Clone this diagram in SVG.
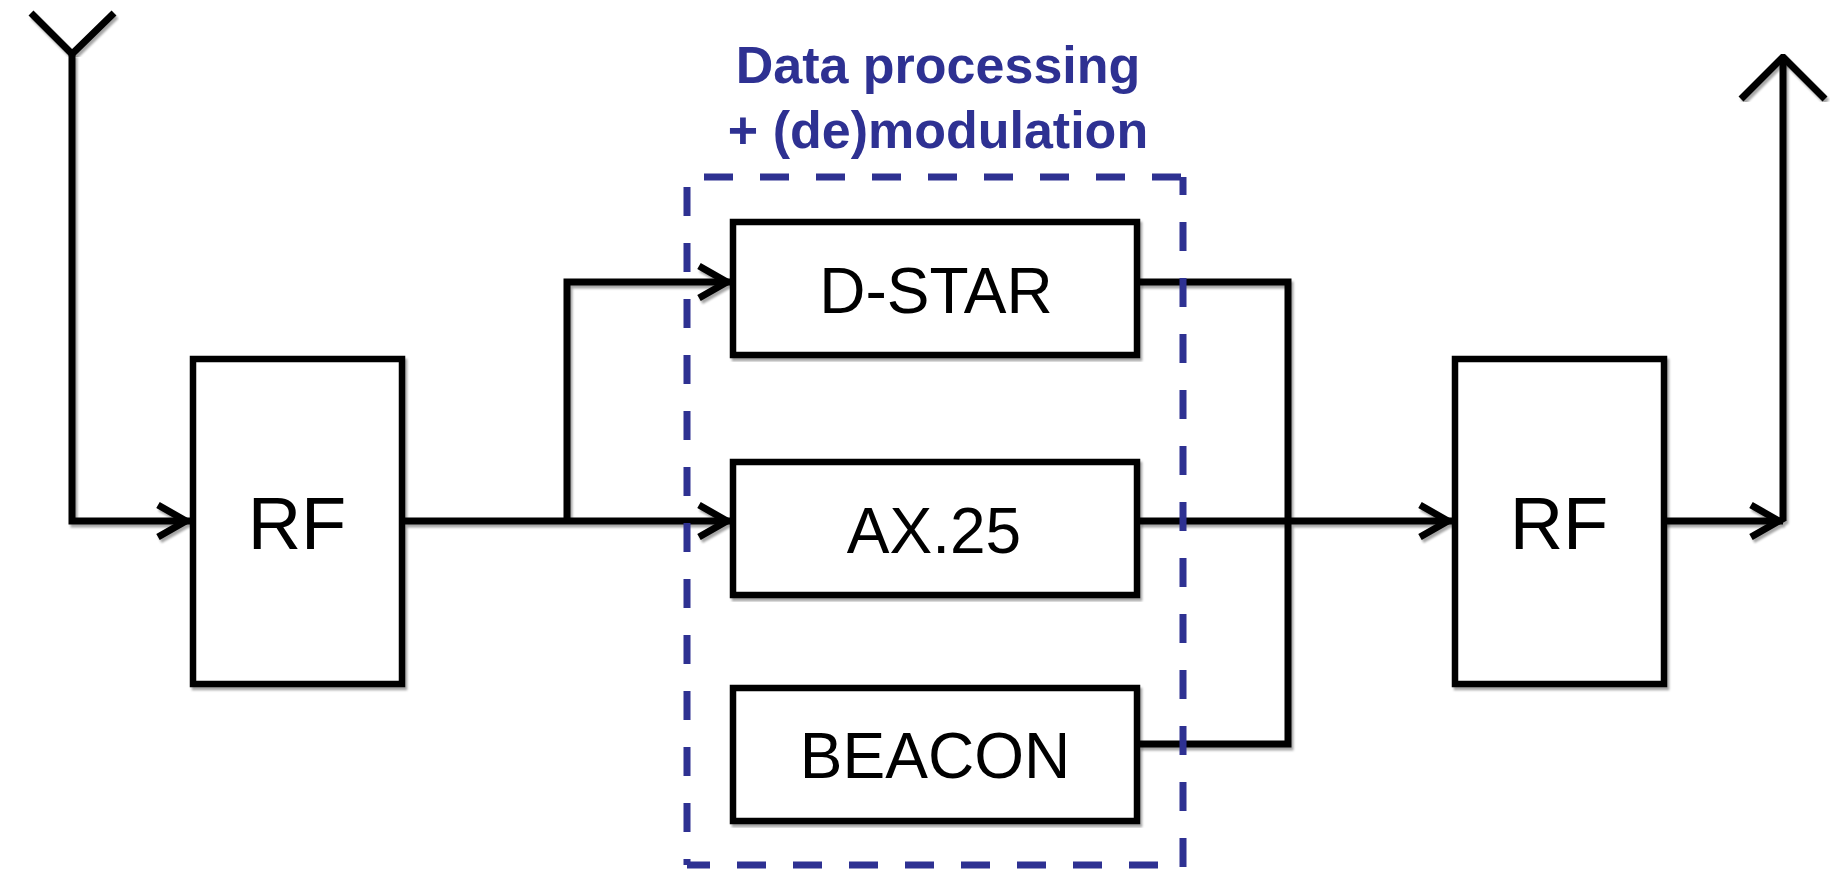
<svg xmlns="http://www.w3.org/2000/svg" width="1841" height="870" viewBox="0 0 1841 870">
  <style>
    .box { fill: #ffffff; stroke: #000000; stroke-width: 6.5; }
    .lbl { font-family: "Liberation Sans", Arial, sans-serif; fill: #000000; text-anchor: middle; }
    .wire { fill: none; stroke: #000000; stroke-width: 7; stroke-linejoin: miter; }
    .title { font-family: "Liberation Sans", Arial, sans-serif; font-weight: bold; font-size: 52px; fill: #2E3192; text-anchor: middle; }
    .dash { fill: none; stroke: #2E3192; stroke-width: 7; stroke-dasharray: 29 27; }
  </style>
  <defs>
    <filter id="shadow" x="-5%" y="-5%" width="110%" height="110%">
      <feDropShadow dx="2" dy="3" stdDeviation="1" flood-color="#000000" flood-opacity="0.35"/>
    </filter>
    <marker id="arrow" markerUnits="userSpaceOnUse" viewBox="-40 -20 44 40" refX="0" refY="0" markerWidth="44" markerHeight="40" orient="auto" overflow="visible">
      <path d="M-32,-16 L-4,0 L-32,16" fill="none" stroke="#000000" stroke-width="7"/>
    </marker>
  </defs>
  <rect width="1841" height="870" fill="#ffffff"/>

  <g id="connectors" filter="url(#shadow)">
    <path class="wire" d="M72,54 V521 H190" marker-end="url(#arrow)"/>
    <path class="wire" d="M405,521 H731" marker-end="url(#arrow)"/>
    <path class="wire" d="M567,521 V282 H731" marker-end="url(#arrow)"/>
    <path class="wire" d="M1139,282 H1288 V744 H1139"/>
    <path class="wire" d="M1139,521 H1452" marker-end="url(#arrow)"/>
    <path class="wire" d="M1665,521 H1783" marker-end="url(#arrow)"/>
    <path class="wire" d="M1783,521 V57"/>
  </g>

  <g id="antenna-rx" filter="url(#shadow)">
    <path class="wire" d="M31,13 L72,54 L114,13"/>
  </g>
  <g id="antenna-tx" filter="url(#shadow)">
    <path class="wire" d="M1741,99 L1783,57 L1825,99"/>
  </g>

  <g id="rf-rx">
    <rect class="box" x="193" y="359" width="209" height="325" filter="url(#shadow)"/>
    <text class="lbl" x="297" y="549" font-size="74">RF</text>
  </g>

  <g id="dstar">
    <rect class="box" x="733" y="222" width="404" height="133" filter="url(#shadow)"/>
    <text class="lbl" x="936" y="313" font-size="64">D-STAR</text>
  </g>

  <g id="ax25">
    <rect class="box" x="733" y="462" width="404" height="133" filter="url(#shadow)"/>
    <text class="lbl" x="934" y="553" font-size="64">AX.25</text>
  </g>

  <g id="beacon">
    <rect class="box" x="733" y="688" width="404" height="133" filter="url(#shadow)"/>
    <text class="lbl" x="935" y="778" font-size="64">BEACON</text>
  </g>

  <g id="rf-tx">
    <rect class="box" x="1455" y="359" width="209" height="325" filter="url(#shadow)"/>
    <text class="lbl" x="1559" y="549" font-size="74">RF</text>
  </g>

  <g id="data-processing">
    <path class="dash" d="M687,177 H1183" stroke-dashoffset="39"/>
    <path class="dash" d="M1183,177 V870" stroke-dashoffset="11"/>
    <path class="dash" d="M687,177 V865" stroke-dashoffset="46"/>
    <path class="dash" d="M687,865 H1183" stroke-dashoffset="6"/>
    <text class="title" x="938" y="83">Data processing</text>
    <text class="title" x="938" y="148">+ (de)modulation</text>
  </g>
</svg>
